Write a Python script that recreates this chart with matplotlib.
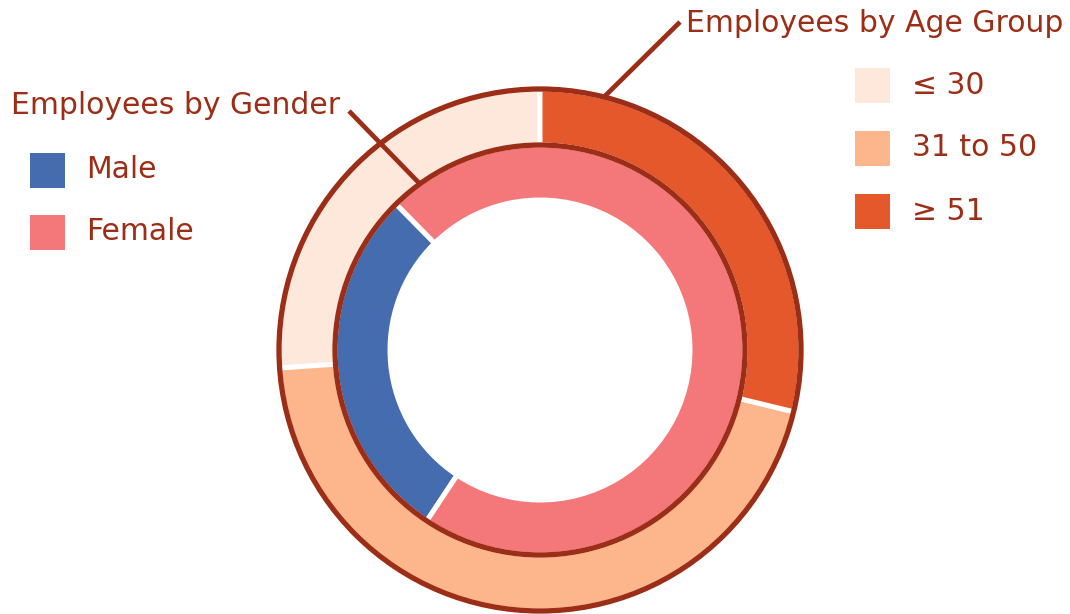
import matplotlib
matplotlib.use("Agg")
from matplotlib import pyplot as plt
from matplotlib.patches import Circle, Rectangle

# data (percent shares)
age_groups = ["\u2264 30", "31 to 50", "\u2265 51"]
age_values = [26.1, 45.1, 28.8]
age_colors = ["#FEE8DC", "#FDB68C", "#E5582B"]

genders = ["Male", "Female"]
gender_values = [28.3, 71.7]
gender_colors = ["#466CB0", "#F4777A"]

dark = "#9C2D16"
plt.rcParams["font.family"] = ["DejaVu Sans"]

W, H = 1070, 614
fig = plt.figure(figsize=(W / 100, H / 100), dpi=100)
ax = fig.add_axes([0, 0, 1, 1])

cx, cy = 540, H - 350
r_out, r_mid, r_in = 261, 205, 150

# outer ring: age groups
ax.pie(age_values, radius=r_out, center=(cx, cy), startangle=90, colors=age_colors,
       wedgeprops=dict(width=r_out - r_mid, edgecolor="white", linewidth=3.6), frame=True)
# inner ring: gender
ax.pie(gender_values, radius=r_mid, center=(cx, cy), startangle=134.6, colors=gender_colors,
       wedgeprops=dict(width=r_mid - r_in, edgecolor="white", linewidth=3.6), frame=True)
ax.set_xlim(0, W)
ax.set_ylim(0, H)
ax.set_aspect("equal")
ax.axis("off")

# dark borders
ax.add_patch(Circle((cx, cy), r_out, fill=False, edgecolor=dark, linewidth=3.8, zorder=5))
ax.add_patch(Circle((cx, cy), r_mid, fill=False, edgecolor=dark, linewidth=3.8, zorder=5))

fs = 21.5
# titles with leader lines
ax.plot([605, 680], [H - 96, H - 22], color=dark, linewidth=3.4, solid_capstyle="butt")
ax.text(686, H - 23, "Employees by Age Group", color=dark, fontsize=fs, va="center", ha="left")
ax.plot([349, 420], [H - 111, H - 184], color=dark, linewidth=3.4, solid_capstyle="butt")
ax.text(11, H - 105, "Employees by Gender", color=dark, fontsize=fs, va="center", ha="left")

# gender legend
for i, (lab, col) in enumerate(zip(genders, gender_colors)):
    yc = 170 + i * 62
    ax.add_patch(Rectangle((30, H - yc - 17.5), 35, 35, facecolor=col, edgecolor="none"))
    ax.text(86, H - yc, lab, color=dark, fontsize=fs, va="center", ha="left")

# age legend
for i, (lab, col) in enumerate(zip(age_groups, age_colors)):
    yc = 85 + i * 63
    ax.add_patch(Rectangle((855, H - yc - 17.5), 35, 35, facecolor=col, edgecolor="none"))
    ax.text(912, H - yc, lab, color=dark, fontsize=fs, va="center", ha="left")

fig.savefig("out.png", dpi=100)
